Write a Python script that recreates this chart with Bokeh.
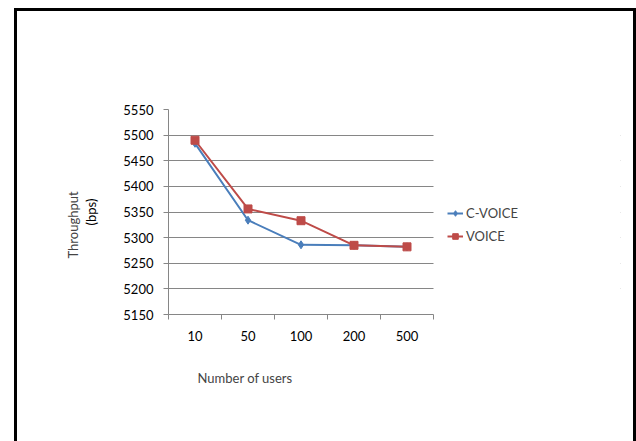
from bokeh.plotting import figure
from bokeh.models import (FixedTicker, SingleIntervalTicker, Range1d, Legend, LegendItem,
                          Title, BoxAnnotation)
from bokeh.embed import file_html
from bokeh.resources import INLINE

# Data
users = ["10", "50", "100", "200", "500"]
c_voice = [5484, 5334, 5286, 5285, 5282]
voice = [5490, 5356, 5333, 5285, 5282]

FONT = "Lato"
FS = "13px"
GRID = "#868686"

xs = list(range(len(users)))
n = len(users)

# plot area is 265 px wide; the frame is widened to hold the legend on its right
AREA_W, FRAME_W = 265, 452
x_end = -0.5 + n * FRAME_W / AREA_W

p = figure(width=616, height=430, output_backend="svg", toolbar_location=None,
           x_range=Range1d(-0.5, x_end), y_range=Range1d(5150, 5550),
           min_border_left=151, min_border_right=616 - 151 - FRAME_W,
           min_border_top=98, min_border_bottom=127)
# page frame drawn around the chart area
p.styles = {"outline": "3px solid black", "margin-left": "17px", "margin-top": "11px"}
p.outline_line_color = None
p.background_fill_color = "white"
p.border_fill_color = "white"

# category labels centred, tick marks between categories
p.xaxis.ticker = FixedTicker(ticks=xs, minor_ticks=[i - 0.5 for i in range(n + 1)])
p.xaxis.bounds = (-0.5, n - 0.5)
p.xaxis.major_label_overrides = {i: u for i, u in enumerate(users)}
p.xaxis.major_tick_out = 0
p.xaxis.major_tick_in = 0
p.xaxis.minor_tick_out = 5
p.xaxis.minor_tick_in = 0
p.xaxis.minor_tick_line_color = GRID
p.xaxis.axis_line_color = GRID
p.xaxis.major_label_standoff = 11
p.xgrid.grid_line_color = None

p.yaxis.ticker = SingleIntervalTicker(interval=50, num_minor_ticks=0)
p.yaxis.major_tick_out = 5
p.yaxis.major_tick_in = 0
p.yaxis.major_tick_line_color = GRID
p.yaxis.axis_line_color = GRID
p.yaxis.major_label_standoff = 10
p.yaxis.axis_label = "(bps)"
p.yaxis.axis_label_standoff = 21
p.ygrid.grid_line_color = GRID
p.ygrid.grid_line_width = 1

for ax in (p.xaxis, p.yaxis):
    ax.major_label_text_font = FONT
    ax.major_label_text_font_size = FS
    ax.major_label_text_color = "black"
    ax.axis_label_text_font = FONT
    ax.axis_label_text_font_size = FS
    ax.axis_label_text_font_style = "normal"
    ax.axis_label_text_color = "black"

# keep the gridlines inside the plot area only
p.add_layout(BoxAnnotation(left=n - 0.5, fill_color="white", fill_alpha=1,
                           line_color=None, level="glyph"))

l1 = p.line(xs, c_voice, line_color="#4A7EBB", line_width=2)
m1 = p.scatter(xs, c_voice, marker="diamond", size=8, fill_color="#4A7EBB",
               line_color="#4A7EBB")
l2 = p.line(xs, voice, line_color="#BE4B48", line_width=2)
m2 = p.scatter(xs, voice, marker="square", size=8, fill_color="#BE4B48",
               line_color="#BE4B48")

legend = Legend(items=[LegendItem(label="C-VOICE", renderers=[l1, m1]),
                       LegendItem(label="VOICE", renderers=[l2, m2])],
                location=(279, 70), orientation="vertical",
                border_line_color=None, background_fill_alpha=0,
                glyph_width=16, glyph_height=14, label_standoff=3, spacing=7,
                padding=0, margin=0, label_text_font=FONT,
                label_text_font_size=FS, label_height=14)
p.add_layout(legend)

# axis titles
p.add_layout(Title(text="Number of users", align="left", offset=29, standoff=48,
                   text_font=FONT, text_font_size=FS, text_font_style="normal"), "below")
p.add_layout(Title(text="Throughput", align="left", offset=56, standoff=0,
                   text_font=FONT, text_font_size=FS, text_font_style="normal"), "left")

open("out.html", "w").write(file_html(p, INLINE))
